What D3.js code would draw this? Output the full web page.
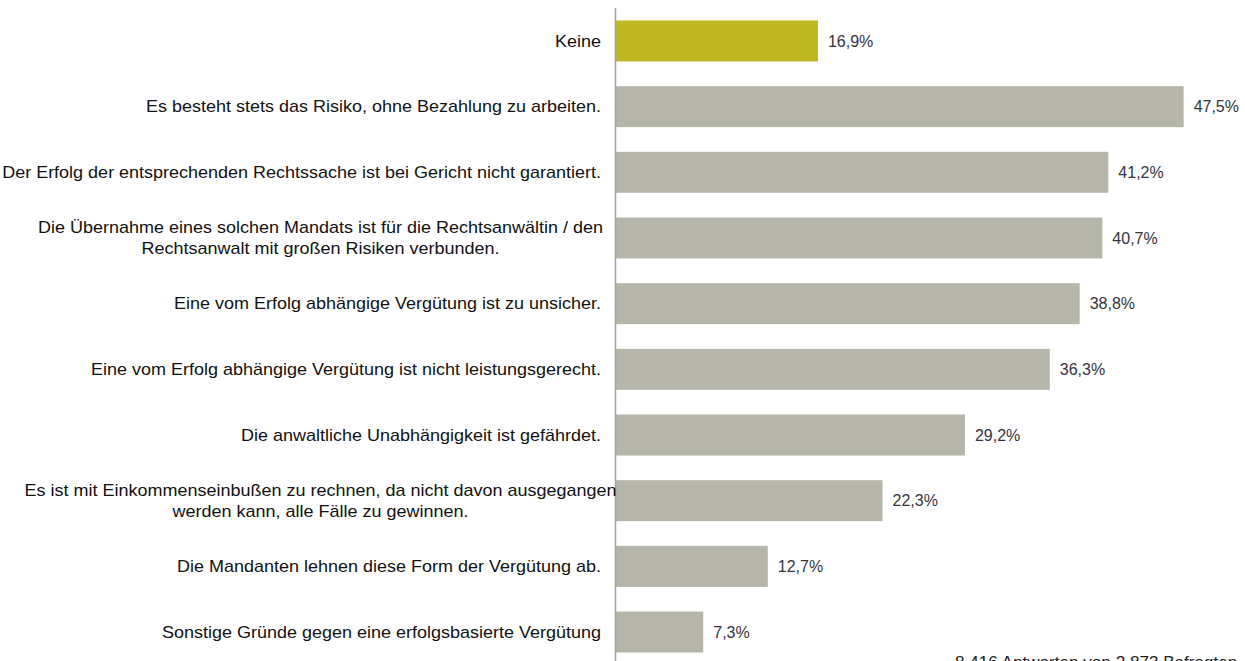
<!DOCTYPE html>
<html>
<head>
<meta charset="utf-8">
<script src="https://cdn.jsdelivr.net/npm/d3@7"></script>
<style>
  html, body { margin: 0; padding: 0; background: #fff; overflow: hidden; }
  svg { display: block; font-family: "Liberation Sans", Arial, sans-serif; }
</style>
</head>
<body>
<svg id="chart" width="1245" height="661"></svg>
<script>
// ========== DATA ==========
const categories = [
  ["Keine"],
  ["Es besteht stets das Risiko, ohne Bezahlung zu arbeiten."],
  ["Der Erfolg der entsprechenden Rechtssache ist bei Gericht nicht garantiert."],
  ["Die Übernahme eines solchen Mandats ist für die Rechtsanwältin / den", "Rechtsanwalt mit großen Risiken verbunden."],
  ["Eine vom Erfolg abhängige Vergütung ist zu unsicher."],
  ["Eine vom Erfolg abhängige Vergütung ist nicht leistungsgerecht."],
  ["Die anwaltliche Unabhängigkeit ist gefährdet."],
  ["Es ist mit Einkommenseinbußen zu rechnen, da nicht davon ausgegangen", "werden kann, alle Fälle zu gewinnen."],
  ["Die Mandanten lehnen diese Form der Vergütung ab."],
  ["Sonstige Gründe gegen eine erfolgsbasierte Vergütung"]
];
const values = [16.9, 47.5, 41.2, 40.7, 38.8, 36.3, 29.2, 22.3, 12.7, 7.3];
const valueLabels = ["16,9%", "47,5%", "41,2%", "40,7%", "38,8%", "36,3%", "29,2%", "22,3%", "12,7%", "7,3%"];
const footnote = "8.416 Antworten von 2.873 Befragten";

const rows = categories.map((c, i) => ({ id: i, lines: c, value: values[i], label: valueLabels[i] }));

const svg = d3.select("#chart");

const x = d3.scaleLinear().domain([0, 50]).range([616, 1213.5]);
const y = d3.scaleBand()
  .domain(rows.map(d => d.id))
  .range([8, 665])
  .paddingInner(0.376)
  .paddingOuter(0.19);

// bars
svg.append("g")
  .selectAll("rect")
  .data(rows)
  .join("rect")
  .attr("x", x(0))
  .attr("y", d => y(d.id))
  .attr("width", d => x(d.value) - x(0))
  .attr("height", y.bandwidth())
  .attr("fill", (d, i) => i === 0 ? "#bfb822" : "#b5b5a9");

// axis line
svg.append("line")
  .attr("x1", 615.5).attr("x2", 615.5)
  .attr("y1", 8).attr("y2", 661)
  .attr("stroke", "#a0a0a0")
  .attr("stroke-width", 1.5);

// category labels (the source text is a bit wider than plain Arial)
const lineH = 21;
const stretch = 1.125;
svg.append("g")
  .selectAll("text")
  .data(rows)
  .join("text")
  .attr("font-size", 16)
  .attr("fill", "#111")
  .attr("text-anchor", d => d.lines.length > 1 ? "middle" : "end")
  .attr("transform", d => {
    const cy = y(d.id) + y.bandwidth() / 2;
    const ax = d.lines.length > 1 ? 320.5 : 601;
    return `translate(${ax},${cy}) scale(${stretch},1)`;
  })
  .each(function (d) {
    const t = d3.select(this);
    const n = d.lines.length;
    d.lines.forEach((ln, k) => {
      t.append("tspan")
        .attr("x", 0)
        .attr("y", (k - (n - 1) / 2) * lineH)
        .attr("dy", "0.35em")
        .text(ln);
    });
  });

// value labels
svg.append("g")
  .selectAll("text")
  .data(rows)
  .join("text")
  .attr("x", d => x(d.value) + 10)
  .attr("y", d => y(d.id) + y.bandwidth() / 2)
  .attr("dy", "0.35em")
  .attr("font-size", 16)
  .attr("fill", "#333340")
  .text(d => d.label);

// footnote
svg.append("text")
  .attr("transform", "translate(955,668) scale(1.07,1)")
  .attr("font-size", 16)
  .attr("fill", "#222")
  .text(footnote);
</script>
</body>
</html>
